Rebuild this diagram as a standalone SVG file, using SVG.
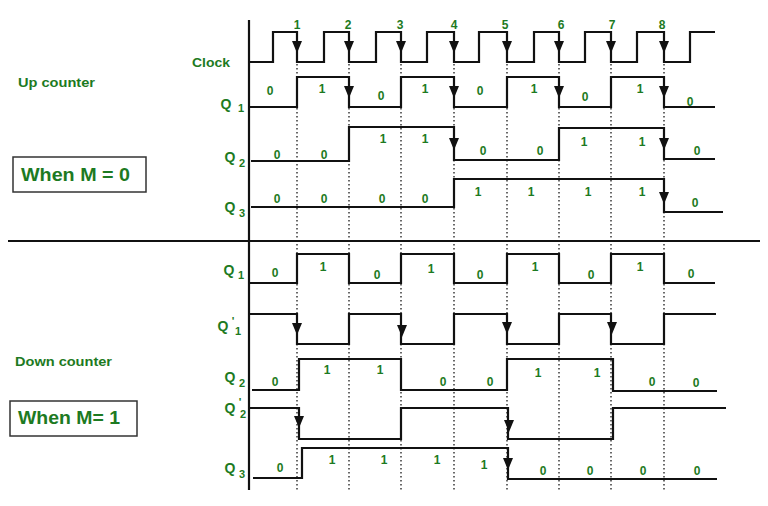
<svg xmlns="http://www.w3.org/2000/svg" xmlns:xlink="http://www.w3.org/1999/xlink" width="768" height="506" viewBox="0 0 768 506">
<style>
.t{font-family:"Liberation Sans",Arial,sans-serif;font-weight:bold;fill:#1d7a22}
.n{font-size:12px;text-anchor:middle}
.q{font-size:14px;text-anchor:middle}
.s{font-size:11px;text-anchor:middle}
.w{fill:none;stroke:#111;stroke-width:2.2}
.d{fill:none;stroke:#444;stroke-width:1.6;stroke-dasharray:1.4 2.6}
.b{fill:#fff;stroke:#333;stroke-width:1.5}
.a{fill:#111}
</style>
<defs>
<path id="ah" d="M-5,-12 L5,-12 L0,0 Z"/>
</defs>
<rect width="768" height="506" fill="#fff"/>
<g id="grid">
<path class="d" d="M297,64V490M349,64V490M401,64V490M454,64V490M507,64V490M559,64V490M611,64V490M664,64V490"/>
</g>
<g id="axes">
<path class="w" d="M249,20V490"/>
<path class="w" d="M8,241H760"/>
</g>
<g id="labels">
<text class="t" x="18" y="87" font-size="12" textLength="77" lengthAdjust="spacingAndGlyphs">Up counter</text>
<text class="t" x="15" y="366" font-size="12" textLength="97" lengthAdjust="spacingAndGlyphs">Down counter</text>
<text class="t" x="192" y="67" font-size="12" textLength="38" lengthAdjust="spacingAndGlyphs">Clock</text>
</g>
<g id="boxM0">
<rect class="b" x="13" y="157" width="133" height="35"/>
<text class="t" x="21" y="181" font-size="18" textLength="109" lengthAdjust="spacingAndGlyphs">When M = 0</text>
</g>
<g id="boxM1">
<rect class="b" x="10" y="401" width="127" height="35"/>
<text class="t" x="18" y="424" font-size="18" textLength="102" lengthAdjust="spacingAndGlyphs">When M= 1</text>
</g>
<g id="clock">
<path class="w" d="M249,62H273V32H297V62H324V32H349V62H376V32H401V62H427V32H454V62H479V32H507V62H534V32H559V62H585V32H611V62H637V32H664V62H690V32H715"/>
<g class="a">
<use xlink:href="#ah" x="297" y="53"/><use xlink:href="#ah" x="349" y="53"/><use xlink:href="#ah" x="401" y="53"/><use xlink:href="#ah" x="454" y="53"/>
<use xlink:href="#ah" x="507" y="53"/><use xlink:href="#ah" x="559" y="53"/><use xlink:href="#ah" x="611" y="53"/><use xlink:href="#ah" x="664" y="53"/>
</g>
<g class="t n">
<text x="297" y="29">1</text><text x="348" y="29">2</text><text x="400" y="29">3</text><text x="454" y="29">4</text>
<text x="505" y="29">5</text><text x="561" y="29">6</text><text x="612" y="29">7</text><text x="662" y="29">8</text>
</g>
</g>
<g id="upQ1">
<text class="t q" x="226" y="109">Q</text><text class="t s" x="241" y="112">1</text>
<path class="w" d="M250,107H297V77H349V107H401V77H454V107H507V77H559V107H611V77H664V107H715"/>
<g class="a"><use xlink:href="#ah" x="349" y="98"/><use xlink:href="#ah" x="454" y="98"/><use xlink:href="#ah" x="559" y="98"/><use xlink:href="#ah" x="664" y="98"/></g>
<g class="t n">
<text x="270" y="95">0</text><text x="322" y="93">1</text><text x="381" y="100">0</text><text x="425" y="93">1</text>
<text x="480" y="95">0</text><text x="534" y="93">1</text><text x="585" y="101">0</text><text x="640" y="93">1</text><text x="690" y="106">0</text>
</g>
</g>
<g id="upQ2">
<text class="t q" x="230" y="162">Q</text><text class="t s" x="242" y="167">2</text>
<path class="w" d="M251,161H349V127H454V160H559V128H664V159H715"/>
<g class="a"><use xlink:href="#ah" x="454" y="150"/><use xlink:href="#ah" x="664" y="150"/></g>
<g class="t n">
<text x="277" y="159">0</text><text x="324" y="159">0</text><text x="383" y="143">1</text><text x="425" y="143">1</text>
<text x="483" y="155">0</text><text x="540" y="155">0</text><text x="584" y="146">1</text><text x="642" y="146">1</text><text x="697" y="155">0</text>
</g>
</g>
<g id="upQ3">
<text class="t q" x="230" y="212">Q</text><text class="t s" x="242" y="217">3</text>
<path class="w" d="M251,207H454V179H664V212H723"/>
<g class="a"><use xlink:href="#ah" x="664" y="204"/></g>
<g class="t n">
<text x="277" y="203">0</text><text x="324" y="203">0</text><text x="382" y="203">0</text><text x="425" y="203">0</text>
<text x="478" y="196">1</text><text x="531" y="196">1</text><text x="588" y="196">1</text><text x="642" y="196">1</text><text x="695" y="207">0</text>
</g>
</g>
<g id="dnQ1">
<text class="t q" x="229" y="275">Q</text><text class="t s" x="241" y="279">1</text>
<path class="w" d="M250,283H297V254H349V283H401V254H454V283H507V254H559V283H611V254H664V283H715"/>
<g class="t n">
<text x="275" y="277">0</text><text x="323" y="271">1</text><text x="377" y="279">0</text><text x="431" y="273">1</text>
<text x="480" y="279">0</text><text x="535" y="271">1</text><text x="591" y="279">0</text><text x="640" y="271">1</text><text x="691" y="278">0</text>
</g>
</g>
<g id="dnQ1n">
<text class="t q" x="223" y="331">Q</text><text class="t s" x="233" y="325">'</text><text class="t s" x="238" y="335">1</text>
<path class="w" d="M250,314H297V344H349V314H401V344H454V314H507V344H559V314H611V344H664V314H716"/>
<g class="a"><use xlink:href="#ah" x="297" y="335"/><use xlink:href="#ah" x="402" y="337"/><use xlink:href="#ah" x="507" y="334"/><use xlink:href="#ah" x="612" y="334"/></g>
</g>
<g id="dnQ2">
<text class="t q" x="230" y="382">Q</text><text class="t s" x="242" y="387">2</text>
<path class="w" d="M252,390H299V359H401V390H507V359H613V391H717"/>
<g class="t n">
<text x="275" y="386">0</text><text x="327" y="374">1</text><text x="380" y="374">1</text><text x="443" y="386">0</text>
<text x="490" y="386">0</text><text x="538" y="377">1</text><text x="597" y="377">1</text><text x="652" y="386">0</text><text x="696" y="387">0</text>
</g>
</g>
<g id="dnQ2n">
<text class="t q" x="230" y="413">Q</text><text class="t s" x="240" y="406">'</text><text class="t s" x="243" y="418">2</text>
<path class="w" d="M250,408H299V439H401V408H508V439H613V408H726"/>
<g class="a"><use xlink:href="#ah" x="299" y="428"/><use xlink:href="#ah" x="509" y="432"/></g>
</g>
<g id="dnQ3">
<text class="t q" x="230" y="473">Q</text><text class="t s" x="242" y="478">3</text>
<path class="w" d="M253,478H302V448H508V479H717"/>
<g class="a"><use xlink:href="#ah" x="508" y="470"/></g>
<g class="t n">
<text x="280" y="472">0</text><text x="332" y="464">1</text><text x="384" y="464">1</text><text x="437" y="464">1</text><text x="484" y="469">1</text>
<text x="543" y="475">0</text><text x="590" y="475">0</text><text x="643" y="475">0</text><text x="697" y="475">0</text>
</g>
</g>
</svg>
